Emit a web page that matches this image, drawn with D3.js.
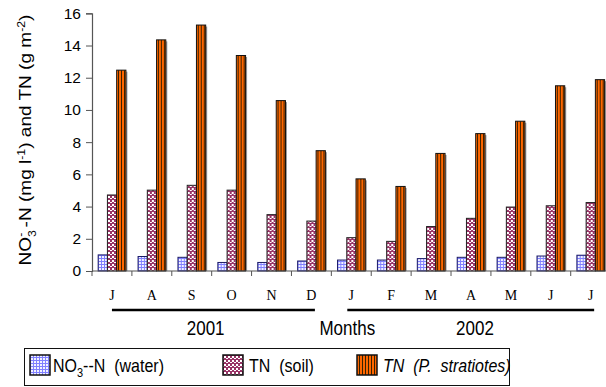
<!DOCTYPE html>
<html>
<head>
<meta charset="utf-8">
<script src="https://cdn.jsdelivr.net/npm/d3@7"></script>
<style>
  html, body { margin: 0; padding: 0; background: #fff; }
  svg { display: block; }
  text { font-family: "Liberation Sans", Arial, sans-serif; white-space: pre; }
</style>
</head>
<body>
<svg id="chart" width="606" height="387"></svg>
<script>
// Monthly nitrogen data, July 2001 – July 2002
const months = ["J", "A", "S", "O", "N", "D", "J", "F", "M", "A", "M", "J", "J"];
const years = [
  { label: "2001", first: 0, last: 5 },
  { label: "2002", first: 6, last: 12 }
];
const nitrateWater = [1.0, 0.9, 0.85, 0.53, 0.53, 0.62, 0.68, 0.68, 0.77, 0.85, 0.85, 0.93, 0.98];
const tnSoil       = [4.72, 5.02, 5.32, 5.02, 3.5, 3.1, 2.07, 1.84, 2.76, 3.27, 3.97, 4.05, 4.25];
const tnPlant      = [12.47, 14.35, 15.27, 13.38, 10.58, 7.47, 5.72, 5.25, 7.3, 8.53, 9.3, 11.5, 11.88];
const yTicks = [0, 2, 4, 6, 8, 10, 12, 14, 16];
const seriesKeys = ["water", "soil", "plant"];

const svg = d3.select("#chart");
const defs = svg.append("defs");

// Fill patterns
const pWater = defs.append("pattern").attr("id", "pat-water")
  .attr("patternUnits", "userSpaceOnUse").attr("width", 3).attr("height", 3);
pWater.append("rect").attr("width", 3).attr("height", 3).attr("fill", "#f2f2ff");
pWater.append("rect").attr("x", 0).attr("y", 0).attr("width", 1).attr("height", 3).attr("fill", "#8080ff");
pWater.append("rect").attr("x", 0).attr("y", 0).attr("width", 3).attr("height", 1).attr("fill", "#8080ff");

const pSoil = defs.append("pattern").attr("id", "pat-soil")
  .attr("patternUnits", "userSpaceOnUse").attr("width", 4).attr("height", 4);
pSoil.append("rect").attr("width", 4).attr("height", 4).attr("fill", "#993366");
pSoil.append("rect").attr("x", 0).attr("y", 0).attr("width", 2).attr("height", 2).attr("fill", "#ffffff");
pSoil.append("rect").attr("x", 2).attr("y", 2).attr("width", 2).attr("height", 1).attr("fill", "#ffffff");

const pPlant = defs.append("pattern").attr("id", "pat-plant")
  .attr("patternUnits", "userSpaceOnUse").attr("width", 3).attr("height", 3);
pPlant.append("rect").attr("width", 3).attr("height", 3).attr("fill", "#ff6600");
pPlant.append("rect").attr("x", 2).attr("y", 0).attr("width", 1).attr("height", 3).attr("fill", "#3a2200");

const fills = { water: "url(#pat-water)", soil: "url(#pat-soil)", plant: "url(#pat-plant)" };
const strokes = { water: "#1a1a66", soil: "#222", plant: "#111" };

// Scales
const x = d3.scaleBand().domain(d3.range(months.length)).range([92, 610.6]).padding(0);
const bw = x.bandwidth();
const xs = d3.scaleBand().domain(seriesKeys).range([bw * 0.155, bw * 0.85]).padding(0);
const y = d3.scaleLinear().domain([0, 16]).range([271, 13.3]);

const rows = months.map((m, i) => ({ i, water: nitrateWater[i], soil: tnSoil[i], plant: tnPlant[i] }));

// Bars with a soft drop shadow
const groups = svg.append("g").selectAll("g").data(rows).join("g")
  .attr("transform", d => `translate(${x(d.i)},0)`);

const barData = d => seriesKeys.map(k => ({ key: k, value: d[k] }));

groups.selectAll("rect.shadow").data(barData).join("rect").attr("class", "shadow")
  .attr("x", d => xs(d.key) + 1.5)
  .attr("y", d => y(d.value) + 1.5)
  .attr("width", xs.bandwidth())
  .attr("height", d => y(0) - y(d.value) - 1.5)
  .attr("fill", "#9a9a9a");

groups.selectAll("rect.bar").data(barData).join("rect").attr("class", "bar")
  .attr("x", d => xs(d.key))
  .attr("y", d => y(d.value))
  .attr("width", xs.bandwidth())
  .attr("height", d => y(0) - y(d.value))
  .attr("fill", d => fills[d.key])
  .attr("stroke", d => strokes[d.key])
  .attr("stroke-width", 1);

// Y axis
const yAxis = svg.append("g").attr("transform", "translate(92,0)")
  .call(d3.axisLeft(y).tickValues(yTicks).tickSize(6).tickPadding(5).tickFormat(d3.format("d")));
yAxis.select(".domain").attr("stroke", "#555").attr("stroke-width", 1.2);
yAxis.selectAll(".tick line").attr("stroke", "#555");
yAxis.selectAll(".tick text").attr("fill", "#000")
  .style("font-family", "'Liberation Sans', Arial, sans-serif").style("font-size", "15.5px");

// X axis: ticks on category boundaries
const boundaries = d3.range(months.length + 1).map(i => 92 + i * bw);
const xAxisG = svg.append("g");
xAxisG.append("line").attr("x1", 92).attr("x2", 606).attr("y1", y(0)).attr("y2", y(0))
  .attr("stroke", "#555").attr("stroke-width", 1.2);
xAxisG.selectAll("line.tk").data(boundaries).join("line").attr("class", "tk")
  .attr("x1", d => d).attr("x2", d => d).attr("y1", y(0)).attr("y2", y(0) + 5)
  .attr("stroke", "#555");
xAxisG.selectAll("text.mon").data(months).join("text").attr("class", "mon")
  .attr("transform", (d, i) => `translate(${x(i) + bw / 2},300) scale(1,1.1)`)
  .attr("text-anchor", "middle")
  .style("font-family", "'Liberation Serif', 'Times New Roman', serif")
  .style("font-size", "14px")
  .text(d => d);

// Text with a slightly tall aspect, anchored at its baseline
function tallText(parent, px, py, sy) {
  return parent.append("text").attr("transform", `translate(${px},${py}) scale(1,${sy})`);
}

// Year brackets
const center = i => x(i) + bw / 2;
svg.selectAll("line.year").data(years).join("line").attr("class", "year")
  .attr("x1", d => center(d.first) - (d.first === 0 ? 0 : 4))
  .attr("x2", d => center(d.last) + 3.5)
  .attr("y1", 310).attr("y2", 310)
  .attr("stroke", "#000").attr("stroke-width", 2.6);
years.forEach(d => {
  tallText(svg, (center(d.first) + center(d.last)) / 2 + (d.first === 0 ? -6 : 4), 335, 1.2)
    .attr("text-anchor", "middle").style("font-size", "17px").text(d.label);
});
tallText(svg, center(6) - 4, 335, 1.2).attr("text-anchor", "middle")
  .style("font-size", "17px").text("Months");

// Y axis title
const yt = svg.append("text")
  .attr("transform", "translate(31,140) rotate(-90) scale(1.12,1)")
  .attr("text-anchor", "middle")
  .style("font-size", "17px");
yt.append("tspan").text("NO");
yt.append("tspan").attr("dy", 5).style("font-size", "11px").text("3");
yt.append("tspan").attr("dx", -6).attr("dy", -12).style("font-size", "11px").text("-");
yt.append("tspan").attr("dy", 7).text(" -N (mg l");
yt.append("tspan").attr("dy", -6).style("font-size", "11px").text("-1");
yt.append("tspan").attr("dy", 6).text(") and TN (g m");
yt.append("tspan").attr("dy", -6).style("font-size", "11px").text("-2");
yt.append("tspan").attr("dy", 6).text(")");

// Legend
const legend = svg.append("g");
legend.append("rect").attr("x", 24.5).attr("y", 348.5).attr("width", 485).attr("height", 37)
  .attr("fill", "#fff").attr("stroke", "#111").attr("stroke-width", 1);
const legItems = [
  { key: "water", x: 30 },
  { key: "soil", x: 223 },
  { key: "plant", x: 357 }
];
legend.selectAll("rect.sw").data(legItems).join("rect").attr("class", "sw")
  .attr("x", d => d.x).attr("y", 355).attr("width", 20).attr("height", 20)
  .attr("fill", d => fills[d.key]).attr("stroke", "#111").attr("stroke-width", 1.5);

const t1 = tallText(legend, 53, 372, 1.15).style("font-size", "16px");
t1.append("tspan").text("NO");
t1.append("tspan").attr("dy", 4).style("font-size", "11px").text("3");
t1.append("tspan").attr("dy", -4).text("--N  (water)");
tallText(legend, 249, 372, 1.15).style("font-size", "16px").text("TN  (soil)");
tallText(legend, 383, 372, 1.15).style("font-size", "16px")
  .style("font-style", "italic").text("TN  (P.  stratiotes)");
</script>
</body>
</html>
